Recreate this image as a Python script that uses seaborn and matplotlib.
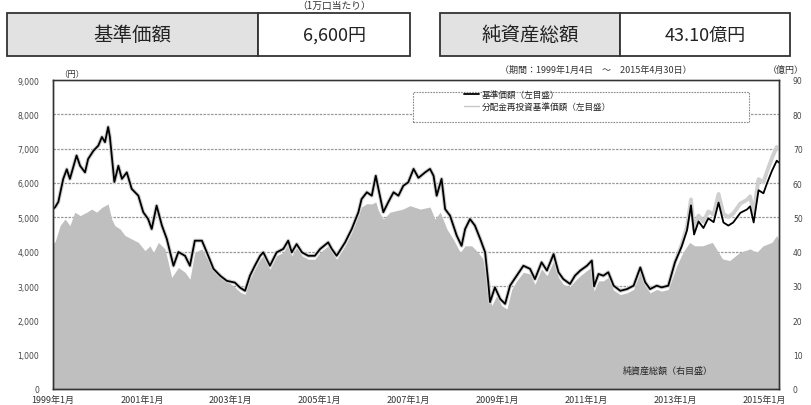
import matplotlib
matplotlib.use("Agg")
import matplotlib.pyplot as plt
import seaborn as sns
from matplotlib.patches import Rectangle
from matplotlib.lines import Line2D

sns.set_theme(style="white")
plt.rcParams["font.family"] = ["Noto Sans CJK JP", "DejaVu Sans"]

# ------------------------------------------------------------
#  data
# ------------------------------------------------------------
NAV_T = [1999.01, 1999.05, 1999.12, 1999.23, 1999.31, 1999.38, 1999.53, 1999.61, 1999.72, 1999.79,
         1999.91, 2000.02, 2000.10, 2000.17, 2000.24, 2000.28, 2000.38, 2000.47, 2000.55, 2000.66,
         2000.77, 2000.92, 2001.03, 2001.14, 2001.22, 2001.33, 2001.45, 2001.56, 2001.71, 2001.82,
         2001.97, 2002.08, 2002.19, 2002.35, 2002.46, 2002.61, 2002.76, 2002.91, 2003.09, 2003.21,
         2003.32, 2003.43, 2003.54, 2003.66, 2003.73, 2003.88, 2004.03, 2004.18, 2004.29, 2004.37,
         2004.48, 2004.60, 2004.74, 2004.89, 2005.01, 2005.19, 2005.27, 2005.38, 2005.57, 2005.72,
         2005.87, 2005.94, 2006.06, 2006.17, 2006.26, 2006.32, 2006.43, 2006.54, 2006.66, 2006.77,
         2006.88, 2006.99, 2007.11, 2007.22, 2007.37, 2007.48, 2007.56, 2007.63, 2007.74, 2007.82,
         2007.93, 2008.08, 2008.19, 2008.27, 2008.38, 2008.49, 2008.61, 2008.72, 2008.79, 2008.83,
         2008.94, 2009.06, 2009.17, 2009.28, 2009.43, 2009.58, 2009.73, 2009.84, 2009.99, 2010.11,
         2010.26, 2010.37, 2010.48, 2010.63, 2010.74, 2010.86, 2011.01, 2011.12, 2011.17, 2011.27,
         2011.38, 2011.49, 2011.61, 2011.76, 2011.91, 2012.06, 2012.21, 2012.32, 2012.43, 2012.58,
         2012.69, 2012.84,
         2012.99, 2013.14, 2013.26, 2013.35, 2013.42, 2013.52, 2013.63, 2013.74, 2013.86, 2013.97,
         2014.08, 2014.19, 2014.30, 2014.46, 2014.61, 2014.68, 2014.76, 2014.87, 2014.98, 2015.06,
         2015.17, 2015.28, 2015.32]

NAV = [5250, 5300, 5450, 6120, 6400, 6120, 6800, 6500, 6310, 6700,
       6940, 7090, 7340, 7190, 7630, 7340, 6030, 6500, 6120, 6310,
       5830, 5630, 5150, 4950, 4660, 5340, 4760, 4370, 3590, 3990,
       3880, 3590, 4320, 4320, 3980, 3500, 3300, 3150, 3100, 2950,
       2860, 3300, 3590, 3880, 3980, 3590, 3980, 4080, 4320, 3980,
       4220, 3980, 3880, 3880, 4080, 4270, 4080, 3880, 4270, 4660,
       5150, 5530, 5730, 5630, 6210, 5830, 5150, 5440, 5730, 5630,
       5920, 6020, 6410, 6150, 6310, 6410, 6210, 5630, 6120, 5240,
       5050, 4470, 4170, 4660, 4950, 4760, 4370, 3980, 3110, 2530,
       2960, 2620, 2480, 3010, 3300, 3590, 3500, 3200, 3690, 3450,
       3930, 3400, 3200, 3060, 3300, 3450, 3590, 3740, 2990, 3350,
       3300, 3400, 3010, 2860, 2910, 3010, 3540, 3110, 2910, 3010,
       2960, 3010,
       3690, 4150, 4620, 5350, 4500, 4880, 4690, 4970, 4860, 5430,
       4850, 4760, 4850, 5130, 5230, 5320, 4850, 5790, 5700, 5990,
       6350, 6650, 6600]

# reinvested NAV: same as NAV until the end of 2012, then these values
REINV_TAIL = [3700, 4200, 4720, 5520, 4650, 5050, 4870, 5170, 5080, 5680,
              5100, 5010, 5110, 5400, 5510, 5610, 5130, 6110, 6020, 6330,
              6720, 7050, 6990]
REINV = NAV[:len(NAV) - len(REINV_TAIL)] + REINV_TAIL

ASSET_T = [1999.01, 1999.05, 1999.16, 1999.27, 1999.38, 1999.49, 1999.61, 1999.76, 1999.87, 1999.98,
           2000.10, 2000.24, 2000.32, 2000.39, 2000.51, 2000.62, 2000.77, 2000.92, 2001.07, 2001.18,
           2001.26, 2001.37, 2001.52, 2001.67, 2001.82, 2001.97, 2002.08, 2002.19, 2002.35, 2002.49,
           2002.64, 2002.83, 2003.06, 2003.21, 2003.32, 2003.43, 2003.54, 2003.66, 2003.73, 2003.88,
           2004.03, 2004.18, 2004.29, 2004.37, 2004.48, 2004.60, 2004.74, 2004.89, 2005.01, 2005.19,
           2005.27, 2005.38, 2005.57, 2005.72, 2005.87, 2005.94, 2006.06, 2006.17, 2006.26, 2006.32,
           2006.43, 2006.58, 2006.87, 2007.03, 2007.26, 2007.48, 2007.59, 2007.71, 2007.86, 2008.00,
           2008.16, 2008.27, 2008.42, 2008.56, 2008.67, 2008.79, 2008.87, 2008.98, 2009.09, 2009.21,
           2009.32, 2009.43, 2009.58, 2009.73, 2009.84, 2009.99, 2010.11, 2010.26, 2010.37, 2010.48,
           2010.63, 2010.74, 2010.86, 2011.01, 2011.12, 2011.17, 2011.27, 2011.38, 2011.49, 2011.61,
           2011.76, 2011.91, 2012.06, 2012.21, 2012.32, 2012.43, 2012.58, 2012.69, 2012.84, 2013.03,
           2013.17, 2013.32, 2013.43, 2013.61, 2013.83, 2014.06, 2014.22, 2014.45, 2014.68, 2014.83,
           2014.97, 2015.17, 2015.28, 2015.33]

ASSET = [42.5, 43.0, 47.6, 49.5, 47.6, 51.5, 50.5, 51.5, 52.4, 51.5,
         52.9, 53.9, 49.5, 47.6, 46.6, 44.7, 43.7, 42.7, 40.3, 41.7,
         39.8, 42.7, 40.8, 32.5, 35.4, 34.0, 32.0, 39.8, 40.8, 37.4,
         34.0, 32.0, 30.1, 28.2, 27.6, 32.0, 34.9, 37.8, 38.8, 34.9,
         38.8, 39.8, 42.2, 38.8, 41.2, 38.8, 37.8, 37.8, 39.8, 41.7,
         39.8, 37.8, 41.7, 45.6, 50.5, 53.0, 54.0, 53.9, 54.5, 52.0,
         49.5, 51.5, 52.4, 53.4, 52.4, 53.0, 49.5, 51.5, 46.6, 43.7,
         39.8, 41.7, 41.7, 39.8, 37.9, 28.2, 24.3, 27.2, 24.3, 23.3,
         29.1, 31.5, 34.0, 33.5, 30.5, 35.0, 33.0, 37.3, 32.5, 30.5,
         29.8, 31.5, 33.0, 34.5, 35.5, 28.5, 31.5, 31.5, 32.5, 28.8,
         27.5, 28.0, 29.0, 34.0, 30.0, 28.0, 29.0, 28.5, 29.0, 35.9,
         39.8, 42.7, 41.7, 41.7, 42.7, 37.9, 37.4, 39.8, 40.8, 39.8,
         41.7, 42.7, 44.7, 43.1]

X_TICKS = [1999, 2001, 2003, 2005, 2007, 2009, 2011, 2013, 2015]
X_LABELS = ["1999年1月", "2001年1月", "2003年1月", "2005年1月", "2007年1月",
            "2009年1月", "2011年1月", "2013年1月", "2015年1月"]
LEFT_TICKS = [0, 1000, 2000, 3000, 4000, 5000, 6000, 7000, 8000, 9000]
RIGHT_TICKS = [0, 10, 20, 30, 40, 50, 60, 70, 80, 90]

SERIES_NAMES = ["基準価額（左目盛）", "分配金再投資基準価額（左目盛）"]
HEADER = [("基準価額", "6,600円"), ("純資産総額", "43.10億円")]

GRAY_FILL = "#bfbfbf"
EDGE = "#333333"

# ------------------------------------------------------------
#  figure
# ------------------------------------------------------------
fig = plt.figure(figsize=(8.11, 4.06), dpi=100)
ax = fig.add_axes([53 / 811, 1 - 390 / 406, 726 / 811, 309 / 406])
ax2 = ax.twinx()

# net assets (right axis) drawn underneath the lines
ax.set_zorder(2)
ax2.set_zorder(1)
ax.patch.set_visible(False)

ax2.set_axisbelow(True)
ax2.grid(axis="y", color="#9a9a9a", lw=0.9, ls=(0, (2, 1)))
ax2.fill_between(ASSET_T, ASSET, color=GRAY_FILL, lw=0, zorder=2)
ax2.set_ylim(0, 90)
ax2.set_yticks(RIGHT_TICKS)
ax2.set_yticklabels([str(v) for v in RIGHT_TICKS], family="DejaVu Sans",
                    fontsize=5.5, color="#444444")
ax2.tick_params(axis="y", length=0, pad=10)

sns.lineplot(x=NAV_T, y=REINV, ax=ax, color="#cfcfcf", lw=2.8,
             estimator=None, sort=False)
sns.lineplot(x=NAV_T, y=NAV, ax=ax, color="black", lw=1.3,
             estimator=None, sort=False)

ax.set_xlim(1999.0, 2015.33)
ax.set_ylim(0, 9000)
ax.set_yticks(LEFT_TICKS)
ax.set_yticklabels([f"{v:,}" for v in LEFT_TICKS], family="DejaVu Sans",
                   fontsize=5.5, color="#444444")
ax.tick_params(axis="y", length=0, pad=10)
ax.set_xticks(X_TICKS)
ax.set_xticklabels(X_LABELS, fontsize=6.5, color="#333333")
ax.tick_params(axis="x", direction="in", length=3, width=0.8, color=EDGE, pad=4)
ax.set_xlabel("")
ax.set_ylabel("")

for a in (ax, ax2):
    for s in a.spines.values():
        s.set_color(EDGE)
        s.set_linewidth(1.0)
ax2.spines["top"].set_color("#888888")

# legend box
ax.add_patch(Rectangle((0.496, 0.864), 0.463, 0.097, transform=ax.transAxes,
                       facecolor="white", edgecolor="#8a8a8a", lw=0.8,
                       ls=(0, (1.5, 1)), zorder=4))
handles = [Line2D([], [], color="black", lw=1.3),
           Line2D([], [], color="#c8c8c8", lw=1.0)]
ax.legend(handles, SERIES_NAMES, loc="upper left", bbox_to_anchor=(0.566, 0.968),
          frameon=False, fontsize=6.2, handlelength=1.8, handletextpad=0.3,
          labelspacing=0.35, borderpad=0, borderaxespad=0)

ax.text(668 / 811, 1 - 371 / 406, "純資産総額（右目盛）", transform=fig.transFigure,
        ha="center", va="center", fontsize=6.5, color="#222222", zorder=6)

# texts around the plot
fig.text(72 / 811, 1 - 74 / 406, "（円）", ha="center", va="center", fontsize=6, color="#333333")
fig.text(596 / 811, 1 - 70 / 406, "（期間：1999年1月4日　～　2015年4月30日）",
         ha="center", va="center", fontsize=6.5, color="#333333")
fig.text(786 / 811, 1 - 70 / 406, "（億円）", ha="center", va="center",
         fontsize=6.5, color="#333333")

# header boxes
fig.text(334 / 811, 1 - 6 / 406, "（1万口当たり）", ha="center", va="center",
         fontsize=7, color="#333333")
boxes = [(7, 258, 410), (440, 620, 790)]
top, bottom = 14, 57
for (x0, xm, x1), (lab, val) in zip(boxes, HEADER):
    h = (bottom - top) / 406
    y0 = 1 - bottom / 406
    fig.patches.append(Rectangle((x0 / 811, y0), (xm - x0) / 811, h, transform=fig.transFigure,
                                 facecolor="#e2e2e2", edgecolor=EDGE, lw=1.3))
    fig.patches.append(Rectangle((xm / 811, y0), (x1 - xm) / 811, h, transform=fig.transFigure,
                                 facecolor="white", edgecolor=EDGE, lw=1.3))
    fig.text((x0 + xm) / 2 / 811, y0 + h / 2, lab, ha="center", va="center",
             fontsize=14, color="#222222")
    fig.text((xm + x1) / 2 / 811, y0 + h / 2, val, ha="center", va="center",
             fontsize=13, color="#222222")

fig.savefig("out.png", dpi=100)
